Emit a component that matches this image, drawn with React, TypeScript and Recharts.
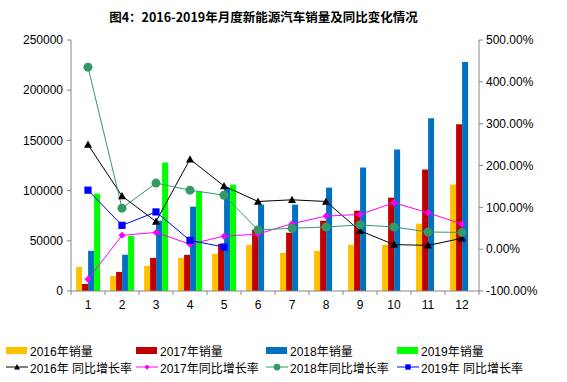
import React from "react"
import { ComposedChart, Bar, Line, XAxis, YAxis } from "recharts"

const months = ["1", "2", "3", "4", "5", "6", "7", "8", "9", "10", "11", "12"]

// monthly sales
const sales2016 = [24000, 15000, 25000, 33000, 37000, 46000, 38000, 40000, 46000, 46000, 67000, 106000]
const sales2017 = [7000, 19000, 33000, 36000, 47000, 61000, 58000, 70000, 80000, 93000, 121000, 166000]
const sales2018 = [40000, 36000, 70000, 84000, 103000, 86000, 86000, 103000, 123000, 141000, 172000, 228000]
const sales2019 = [97000, 55000, 128000, 99000, 106000]

// year-on-year growth (1 = 100%)
const growth2016 = [2.5, 1.27, 0.66, 2.15, 1.51, 1.14, 1.18, 1.14, 0.44, 0.11, 0.09, 0.26]
const growth2017 = [-0.72, 0.33, 0.4, 0.12, 0.31, 0.36, 0.61, 0.79, 0.83, 1.11, 0.87, 0.6]
const growth2018 = [4.35, 0.98, 1.58, 1.41, 1.29, 0.46, 0.5, 0.53, 0.58, 0.53, 0.41, 0.4]
const growth2019 = [1.41, 0.57, 0.89, 0.21, 0.05]

const leftTicks = [0, 50000, 100000, 150000, 200000, 250000]
const rightTicks = [-1, 0, 1, 2, 3, 4, 5]

const barNames = ["2016年销量", "2017年销量", "2018年销量", "2019年销量"]
const lineNames = ["2016年 同比增长率", "2017年同比增长率", "2018年同比增长率", "2019年 同比增长率"]

const barColors = ["#FFC000", "#C00000", "#0070C0", "#00FF00"]
const lineColors = ["#000000", "#FF00FF", "#339966", "#0000FF"]

const data = months.map((m, i) => ({
  month: m,
  s2016: sales2016[i],
  s2017: sales2017[i],
  s2018: sales2018[i],
  s2019: sales2019[i] ?? null,
  g2016: growth2016[i],
  g2017: growth2017[i],
  g2018: growth2018[i],
  g2019: growth2019[i] ?? null,
}))

const FONT = "'Liberation Sans', 'Noto Sans CJK SC', sans-serif"
const AXIS = "#868686"

function Marker({ kind, cx, cy, color, small }: any) {
  if (cx == null || cy == null) return null
  const k = small ? 0.75 : 1
  if (kind === 0) {
    const s = 4 * k
    return <polygon points={`${cx},${cy - s} ${cx - s},${cy + s * 0.8} ${cx + s},${cy + s * 0.8}`} fill={color} />
  }
  if (kind === 1) {
    const s = 3.5 * k
    return <polygon points={`${cx},${cy - s} ${cx + s},${cy} ${cx},${cy + s} ${cx - s},${cy}`} fill={color} />
  }
  if (kind === 2) return <circle cx={cx} cy={cy} r={4.5 * k} fill={color} />
  const s = 3.6 * k
  return <rect x={cx - s} y={cy - s} width={s * 2} height={s * 2} fill={color} />
}

const band = 408 / 12

function MonthTick(props: any) {
  const { x, y, payload, index } = props
  const top = y - 8
  return (
    <g>
      <line x1={x + band / 2} y1={top} x2={x + band / 2} y2={top + 4} stroke={AXIS} />
      {index === 0 && <line x1={x - band / 2} y1={top} x2={x - band / 2} y2={top + 4} stroke={AXIS} />}
      <text x={x} y={y + 10} textAnchor="middle" fontSize={12} fontFamily={FONT} fill="#000">
        {payload.value}
      </text>
    </g>
  )
}

function LegendBlock() {
  const cols = [6, 136, 266, 397]
  return (
    <div style={{ position: "absolute", left: 0, top: 341, width: 567, fontFamily: FONT, fontSize: 12 }}>
      {barNames.map((n, i) => (
        <div key={n} style={{ position: "absolute", left: cols[i], top: 0, display: "flex", alignItems: "center", height: 18 }}>
          <div style={{ width: 21, height: 7, background: barColors[i], marginRight: 3 }} />
          <span>{n}</span>
        </div>
      ))}
      {lineNames.map((n, i) => (
        <div key={n} style={{ position: "absolute", left: cols[i], top: 17, display: "flex", alignItems: "center", height: 18 }}>
          <svg width={22} height={10} style={{ marginRight: 2 }}>
            <line x1={0} y1={5} x2={22} y2={5} stroke={lineColors[i]} strokeWidth={1} />
            <Marker kind={i} cx={11} cy={5} color={lineColors[i]} small />
          </svg>
          <span>{n}</span>
        </div>
      ))}
    </div>
  )
}

export default function App() {
  const lineKeys = ["g2016", "g2017", "g2018", "g2019"]
  const barKeys = ["s2016", "s2017", "s2018", "s2019"]
  return (
    <div style={{ position: "absolute", left: 0, top: 0, width: 567, height: 382, background: "#fff" }}>
      <div
        style={{
          position: "absolute",
          left: 0,
          top: 7,
          width: 527,
          textAlign: "center",
          fontFamily: "'Noto Sans CJK SC', sans-serif",
          fontWeight: 700,
          fontSize: 12.5,
          color: "#000",
        }}
      >
        图4：2016-2019年月度新能源汽车销量及同比变化情况
      </div>
      <ComposedChart
        width={567}
        height={382}
        data={data}
        margin={{ top: 40, right: 0, left: 0, bottom: 61 }}
        barCategoryGap="15%"
        barGap={0}
      >
        <XAxis
          dataKey="month"
          xAxisId="m"
          stroke={AXIS}
          tickLine={false}
          tick={<MonthTick />}
          height={30}
          interval={0}
        />
        <YAxis
          yAxisId="left"
          width={71}
          domain={[0, 250000]}
          ticks={leftTicks}
          stroke={AXIS}
          tickSize={4}
          tickMargin={4}
          tick={{ fill: "#000", fontSize: 12, fontFamily: FONT }}
        />
        <YAxis
          yAxisId="right"
          orientation="right"
          width={88}
          domain={[-1, 5]}
          ticks={rightTicks}
          stroke={AXIS}
          tickSize={4}
          tickMargin={3}
          tickFormatter={(v: number) => `${(v * 100).toFixed(2)}%`}
          tick={{ fill: "#000", fontSize: 12, fontFamily: FONT }}
        />
        {barKeys.map((k, i) => (
          <Bar key={k} dataKey={k} xAxisId="m" yAxisId="left" fill={barColors[i]} isAnimationActive={false} />
        ))}
        {lineKeys.map((k, i) => (
          <Line
            key={k}
            dataKey={k}
            xAxisId="m"
            yAxisId="right"
            stroke={lineColors[i]}
            strokeWidth={1}
            dot={(p: any) => <Marker key={`${k}-${p.index}`} kind={i} cx={p.cx} cy={p.cy} color={lineColors[i]} />}
            activeDot={false}
            isAnimationActive={false}
          />
        ))}
      </ComposedChart>
      <LegendBlock />
    </div>
  )
}
